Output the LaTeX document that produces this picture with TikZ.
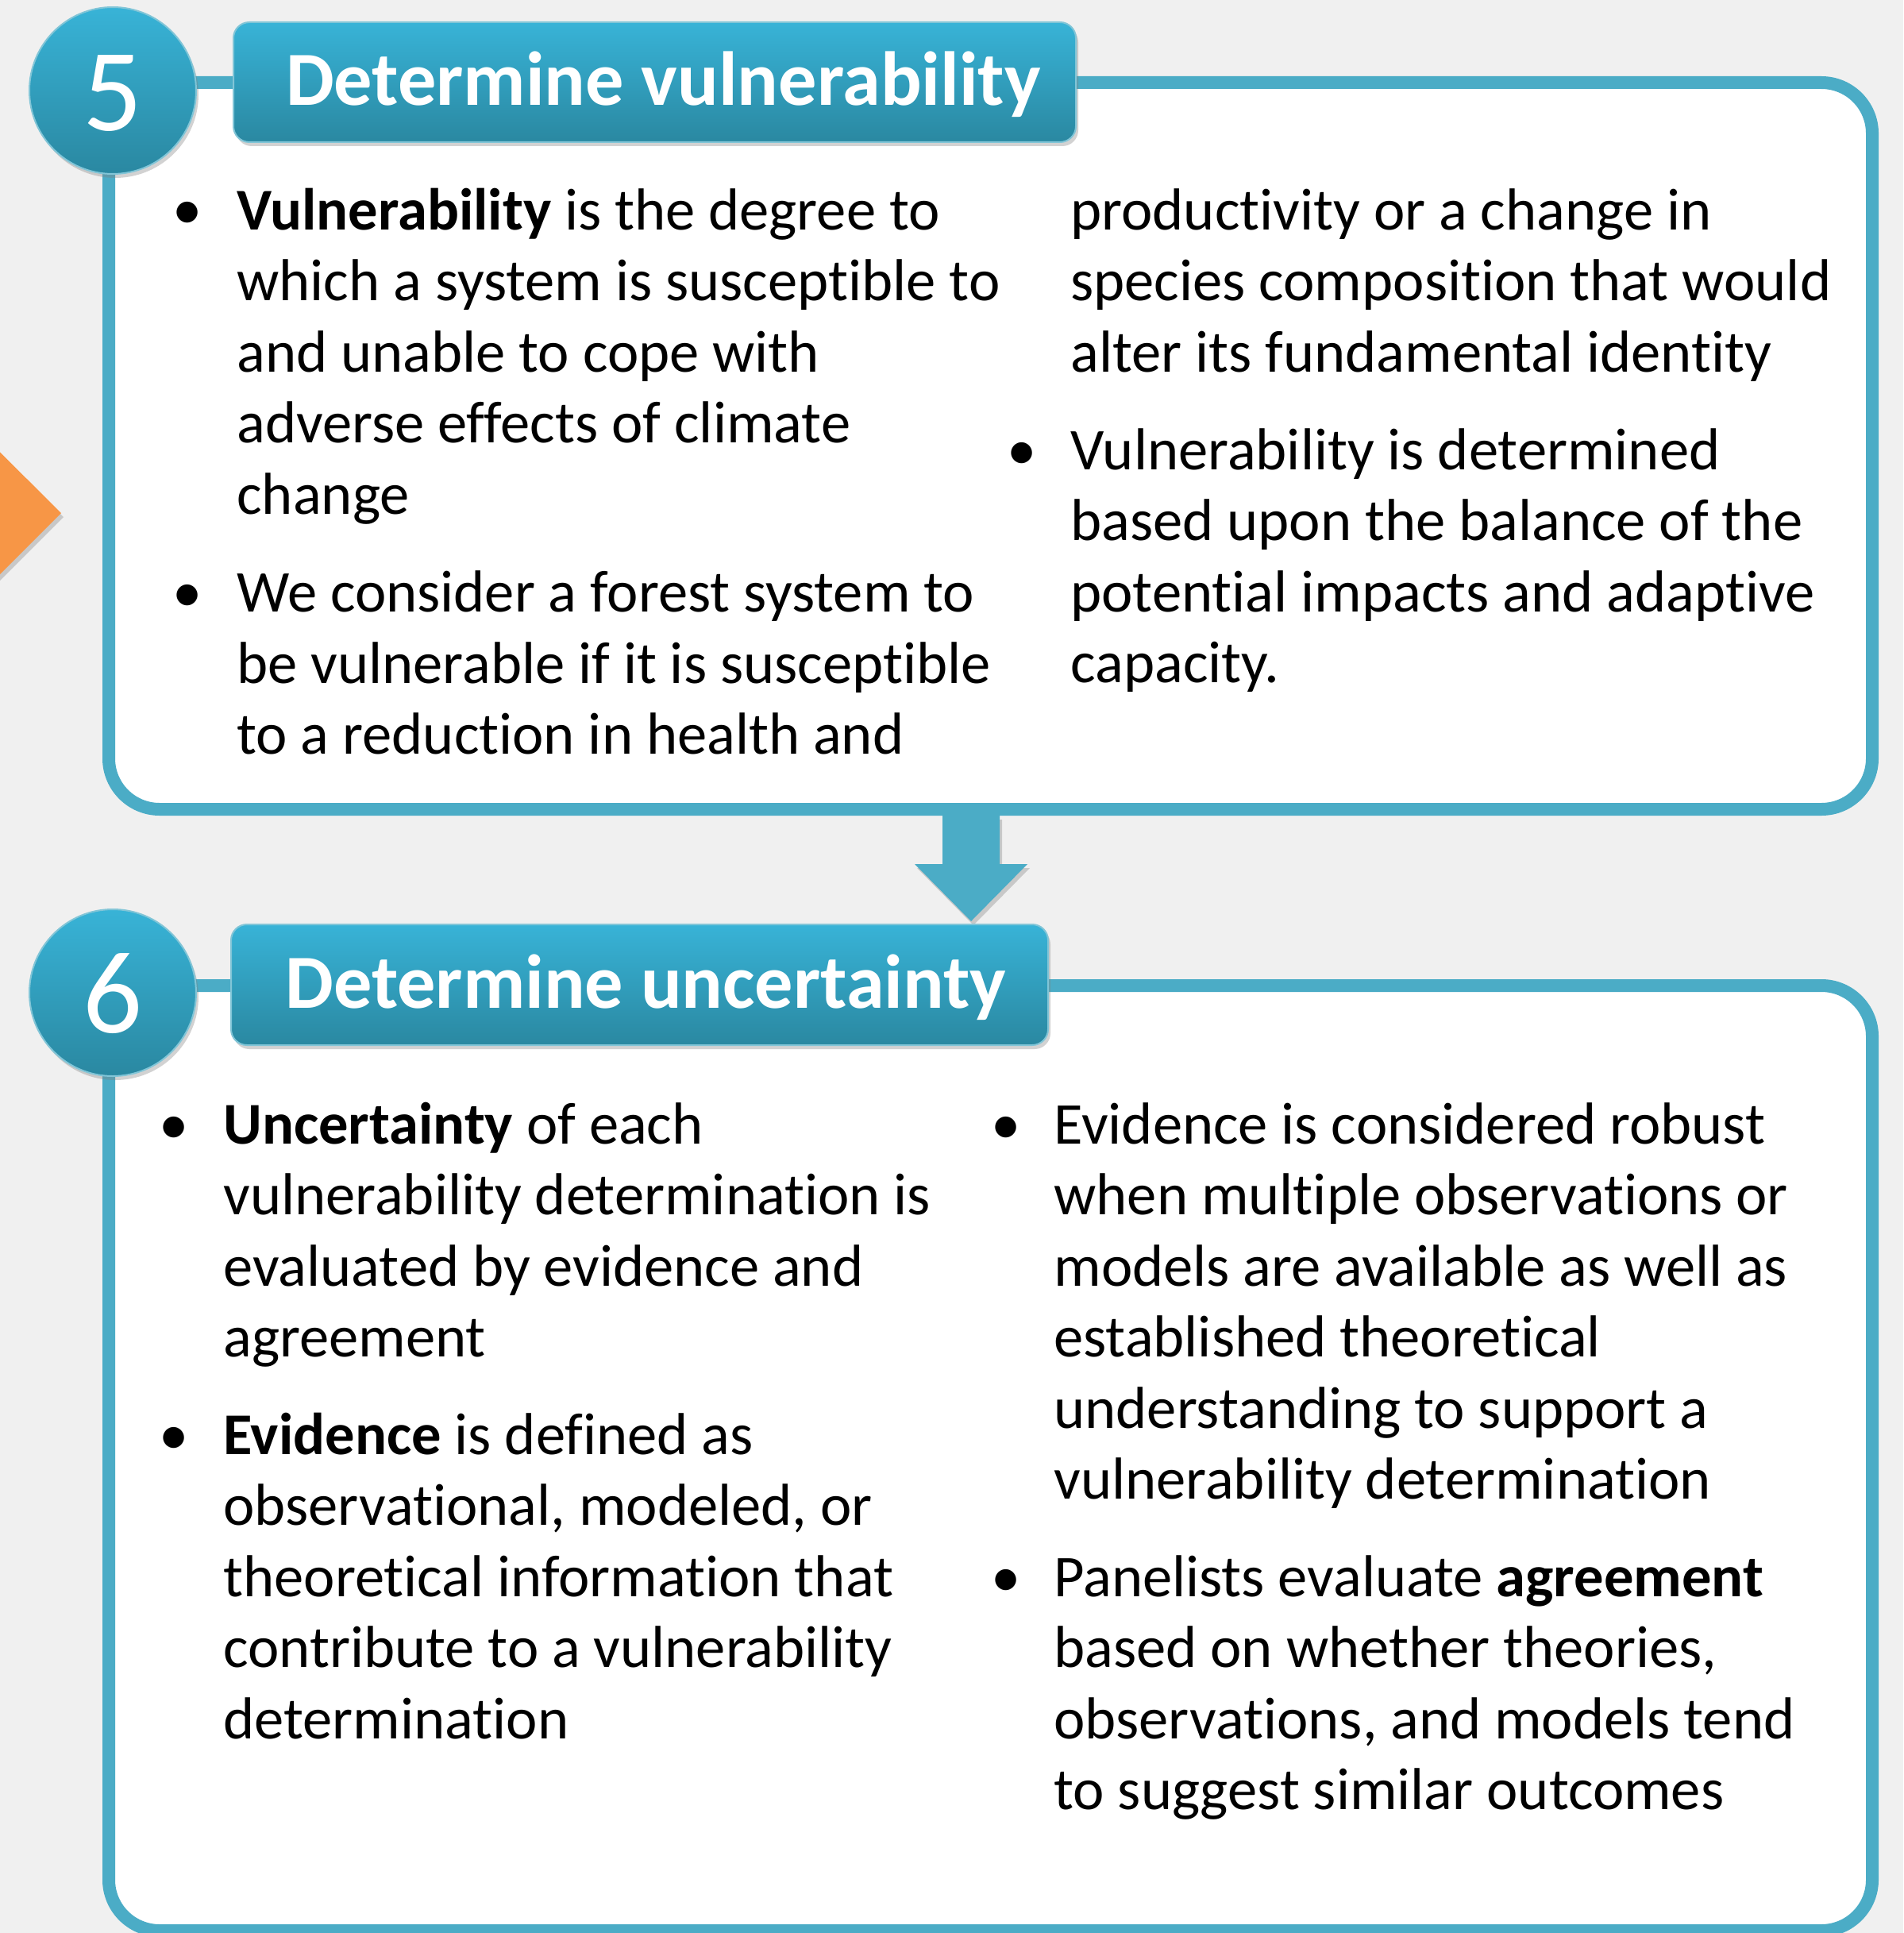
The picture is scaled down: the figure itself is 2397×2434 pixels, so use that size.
\documentclass[tikz,border=0pt]{standalone}
\usepackage{fontspec}
\setmainfont{Carlito}[Ligatures=NoCommon]
\usetikzlibrary{shadows,positioning,calc}
\definecolor{aqua}{HTML}{4BACC6}
\definecolor{aquatop}{HTML}{38B3D7}
\definecolor{aquabot}{HTML}{2A88A1}
\definecolor{pagebg}{HTML}{F0F0F0}
\definecolor{orng}{HTML}{F79646}
\tikzset{
 panel/.style={shape=rectangle,draw=aqua,line width=8pt,fill=white,rounded corners=32pt,inner sep=0pt},
 boxshadow/.style={drop shadow={shadow xshift=1.5pt,shadow yshift=-2.5pt,opacity=.35}},
 numdisk/.style={shape=circle,minimum size=105pt,inner sep=0pt,top color=aquatop,bottom color=aquabot,
   draw=aqua!70!white,line width=1pt,text=white,font=\fontsize{74}{74}\selectfont,
   text height=50.5pt,text depth=0pt,boxshadow},
 titlebox/.style={shape=rectangle,rounded corners=10pt,inner sep=0pt,top color=aquatop,bottom color=aquabot,
   draw=aqua!70!white,line width=1pt,text=white,font=\bfseries\fontsize{48.2}{48.2}\selectfont,
   text height=29pt,text depth=0pt,boxshadow},
 bodytext/.style={anchor=base west,align=left,inner sep=0pt,font=\fontsize{37.3}{44.75}\selectfont},
 dot/.style={anchor=base,inner sep=0pt,font=\fontsize{37.3}{44.75}\selectfont}
}
% baselines: 89.5 between lines, 122.5 between items; text nodes are placed at their last line

\begin{document}
\begin{tikzpicture}[x=0.5pt,y=-0.5pt]
\useasboundingbox (0,0) rectangle (2397,2434);
\fill[pagebg] (0,0) rectangle (2397,2434);

% tip of the previous step
\fill[orng,boxshadow] (-100,470) -- (77,646) -- (-100,823) -- cycle;

% the two panels
\path (1247.5,561.5) node[panel,minimum width=1110.5pt,minimum height=457.5pt,name=panel5] {};
\path (1247.5,1836) node[panel,minimum width=1110.5pt,minimum height=595pt,name=panel6] {};

% arrow from step 5 down to step 6
\coordinate (arr) at ($(panel5.south)+(-24.5,0)$);
\fill[aqua,boxshadow] (arr) ++(-36,0) -- ++(0,61) -- ++(-35,0) -- ++(71,72) -- ++(71,-72)
    -- ++(-35,0) -- ++(0,-61) -- cycle;

% step numbers and titles
\path (142,114) node[numdisk,name=n5] {5};
\path (824.5,103.5) node[titlebox,minimum width=530.5pt,minimum height=75.5pt,name=title5] {\hspace{11pt}Determine vulnerability};
\path (142,1250) node[numdisk,name=n6] {6};
\path (805.5,1240) node[titlebox,minimum width=514.5pt,minimum height=76pt,name=title6] {\hspace{8pt}Determine uncertainty};

% step 5 text
\path (236,289) node[dot,name=d5a] {\textbullet};
\path (298,289+4*89.5) node[bodytext,name=t5a] {\textbf{Vulnerability} is the degree to\\which a system is susceptible to\\and unable to cope with\\adverse effects of climate\\change};
\path (236,770.5) node[dot,name=d5b] {\textbullet};
\path (298,770.5+2*89.5) node[bodytext,name=t5b] {We consider a forest system to\\be vulnerable if it is susceptible\\to a reduction in health and};
\path (1348,289+2*89.5) node[bodytext,name=t5c] {productivity or a change in\\species composition that would\\alter its fundamental identity};
\path (1287,591) node[dot,name=d5d] {\textbullet};
\path (1348,591+3*89.5) node[bodytext,name=t5d] {Vulnerability is determined\\based upon the balance of the\\potential impacts and adaptive\\capacity.};

% step 6 text
\path (219,1440) node[dot,name=d6a] {\textbullet};
\path (281,1440+3*89.5) node[bodytext,name=t6a] {\textbf{Uncertainty} of each\\vulnerability determination is\\evaluated by evidence and\\agreement};
\path (219,1831) node[dot,name=d6b] {\textbullet};
\path (281,1831+4*89.5) node[bodytext,name=t6b] {\textbf{Evidence} is defined as\\observational, modeled, or\\theoretical information that\\contribute to a vulnerability\\determination};
\path (1267,1440) node[dot,name=d6c] {\textbullet};
\path (1327,1440+5*89.5) node[bodytext,name=t6c] {Evidence is considered robust\\when multiple observations or\\models are available as well as\\established theoretical\\understanding to support a\\vulnerability determination};
\path (1267,2010) node[dot,name=d6d] {\textbullet};
\path (1327,2010+3*89.5) node[bodytext,name=t6d] {Panelists evaluate \textbf{agreement}\\based on whether theories,\\observations, and models tend\\to suggest similar outcomes};
\end{tikzpicture}
\end{document}
